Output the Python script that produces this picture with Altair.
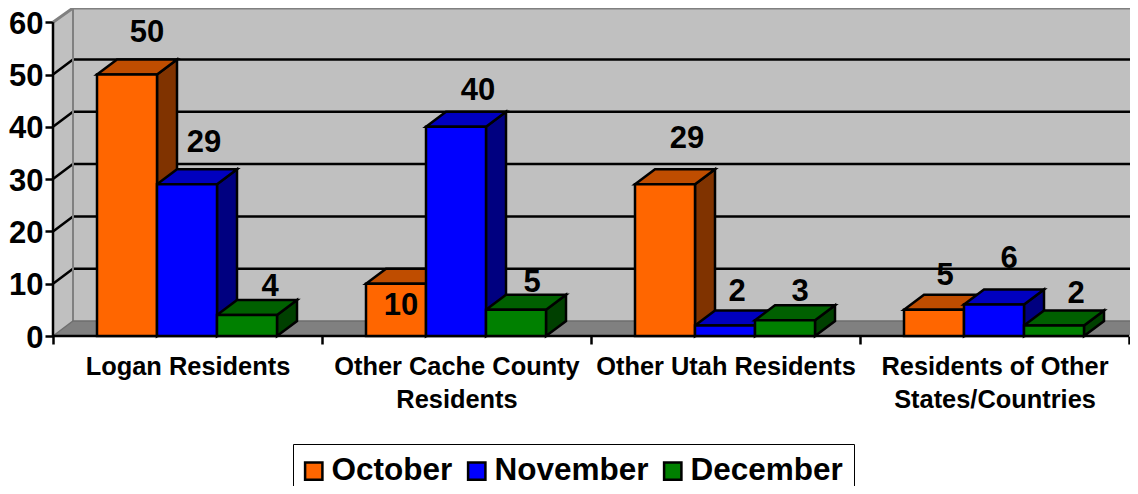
import altair as alt
import pandas as pd

categories = ["Logan Residents", "Other Cache County Residents", "Other Utah Residents", "Residents of Other States/Countries"]
category_lines = [["Logan Residents"], ["Other Cache County", "Residents"], ["Other Utah Residents"], ["Residents of Other", "States/Countries"]]
months = ["October", "November", "December"]
october = [50, 10, 29, 5]
november = [29, 40, 2, 6]
december = [4, 5, 3, 2]
front_colors = ["#FF6600", "#0000FF", "#008000"]
top_colors = ["#BF4D00", "#0000BF", "#006000"]
side_colors = ["#803300", "#000080", "#004000"]
# hand-placed data label nudges (x px, y px up)
nudge_x = [[20, 17, 23], [5, 22, 16], [22, 12, 15], [11, 15, 22]]
nudge_y = [[42, 41.5, 28.5], [-22.5, 35.5, 26.5], [45.5, 34, 28.5], [33.5, 46, 32]]

PX_X = 269.0
PX_Y = 5.23
W = 1077
H = 328
XMAX = W / PX_X
YMAX = H / PX_Y
DX = 20 / PX_X
DY = 15 / PX_Y
GAP = 44 / PX_X
BW = 60 / PX_X
FONT = "Liberation Sans"

series = [october, november, december]
fronts, polys, labels = [], [], []
pid = 0


def poly(points, fill):
    global pid
    pid += 1
    for x, y, y2 in points:
        polys.append({"pid": pid, "x": x, "y": y, "y2": y2, "fill": fill})


for c in range(len(categories)):
    for m in range(len(months)):
        v = series[m][c]
        x0 = c + GAP + m * BW
        x1 = x0 + BW
        fronts.append({"month": months[m], "x": x0, "x2": x1, "y": v, "y0": 0})
        poly([(x1, 0, v), (x1 + DX, DY, v + DY)], side_colors[m])
        poly([(x0, v, v), (x0 + DX, v, v + DY), (x1, v, v + DY), (x1 + DX, v + DY, v + DY)], top_colors[m])
        labels.append({"x": (x0 + x1) / 2 + nudge_x[c][m] / PX_X, "y": v + nudge_y[c][m] / PX_Y, "t": str(v)})

walls = []
for x, y, y2 in [(0, 0, 60), (DX, DY, YMAX), (XMAX, DY, YMAX)]:
    walls.append({"pid": "wall", "x": x, "y": y, "y2": y2, "fill": "#C0C0C0"})
n = len(categories)
for x, y, y2 in [(0, 0, 0), (DX, 0, DY), (n, 0, DY), (XMAX, DY * (XMAX - n) / DX, DY)]:
    walls.append({"pid": "floor", "x": x, "y": y, "y2": y2, "fill": "#808080"})

lines = []
for v in range(10, 60, 10):
    for x, y in [(0, v), (DX, v + DY), (XMAX, v + DY)]:
        lines.append({"lid": f"g{v}", "x": x, "y": y, "c": "#000000", "w": 2.5})
for x, y in [(0, 60), (DX, YMAX), (XMAX, YMAX)]:
    lines.append({"lid": "wtop", "x": x, "y": y, "c": "#808080", "w": 3})
for x, y in [(DX, DY), (DX, YMAX)]:
    lines.append({"lid": "wleft", "x": x, "y": y, "c": "#808080", "w": 2})
for x, y in [(0, 0), (DX, DY), (XMAX, DY)]:
    lines.append({"lid": "wbase", "x": x, "y": y, "c": "#6E6E6E", "w": 1.5})
for x, y in [(0, 0), (0, 60)]:
    lines.append({"lid": "yaxis", "x": x, "y": y, "c": "#000000", "w": 2.5})
for x, y in [(0, 0), (n, 0)]:
    lines.append({"lid": "xaxis", "x": x, "y": y, "c": "#000000", "w": 2.5})

xs = alt.Scale(domain=[0, XMAX], nice=False, zero=False)
ys = alt.Scale(domain=[0, YMAX], nice=False, zero=False)

label_expr = "".join(
    f"datum.value == {i + 0.5} ? {category_lines[i]!r} : " for i in range(n)
) + "''"

x_axis = alt.Axis(
    values=[i / 2 for i in range(2 * n + 1)],
    labelExpr=label_expr,
    tickOpacity=alt.condition("datum.value % 1 == 0", alt.value(1), alt.value(0)),
    tickColor="black", tickWidth=2.5, tickSize=8, domain=False, grid=False, title=None,
    labelFont=FONT, labelFontWeight="bold", labelFontSize=25.4, labelColor="black",
    labelPadding=10, labelLineHeight=33, labelOverlap=False, labelBound=False, labelFlush=False,
    labelLimit=500,
)
y_axis = alt.Axis(
    values=list(range(0, 70, 10)), tickColor="black", tickWidth=2.5, tickSize=8,
    domain=False, grid=False, title=None, labelFont=FONT, labelFontWeight="bold",
    labelFontSize=31, labelColor="black", labelPadding=2, labelOffset=2,
)

X_ = alt.X("x:Q", scale=xs, axis=x_axis)
Y_ = alt.Y("y:Q", scale=ys, axis=y_axis, stack=None)

wall_layer = alt.Chart(pd.DataFrame(walls)).mark_area().encode(
    x=X_, y=Y_, y2="y2:Q",
    detail="pid:N",
    fill=alt.Fill("fill:N", scale=None),
)
line_layer = alt.Chart(pd.DataFrame(lines)).mark_line().encode(
    x=X_, y=Y_, detail="lid:N",
    stroke=alt.Stroke("c:N", scale=None),
    strokeWidth=alt.StrokeWidth("w:Q", scale=None),
    order=alt.Order("x:Q"),
)
face_layer = alt.Chart(pd.DataFrame(polys)).mark_area(stroke="black", strokeWidth=2.5).encode(
    x=X_, y=Y_, y2="y2:Q",
    detail="pid:N",
    fill=alt.Fill("fill:N", scale=None),
)
front_layer = alt.Chart(pd.DataFrame(fronts)).mark_bar(stroke="black", strokeWidth=2.5).encode(
    x=X_, x2="x2:Q", y=Y_, y2="y0:Q",
    fill=alt.Fill(
        "month:N",
        scale=alt.Scale(domain=months, range=front_colors),
        legend=alt.Legend(
            title=None, orient="none", legendX=240, legendY=436, direction="horizontal", columns=3,
            symbolType="square", symbolSize=300, symbolStrokeColor="black", symbolStrokeWidth=2.5,
            symbolOffset={"expr": "-6"},
            labelFont=FONT, labelFontWeight="bold", labelFontSize=31.5, labelColor="black",
            labelOffset=2, columnPadding=10, padding=11, fillColor="white",
            strokeColor="black", symbolOpacity=1, labelLimit=300,
        ),
    ),
)
text_layer = alt.Chart(pd.DataFrame(labels)).mark_text(
    font=FONT, fontWeight="bold", fontSize=31, color="black", baseline="middle", align="center"
).encode(x=X_, y=Y_, text="t:N")

chart = alt.layer(wall_layer, line_layer, face_layer, front_layer, text_layer).properties(
    width=W, height=H,
    padding={"left": 45, "top": 0, "right": 0, "bottom": 150},
    autosize=alt.AutoSizeParams(type="none"),
    background="white",
).configure_view(stroke=None)

chart.save("out.html", embed_options={"renderer": "svg", "actions": False})
